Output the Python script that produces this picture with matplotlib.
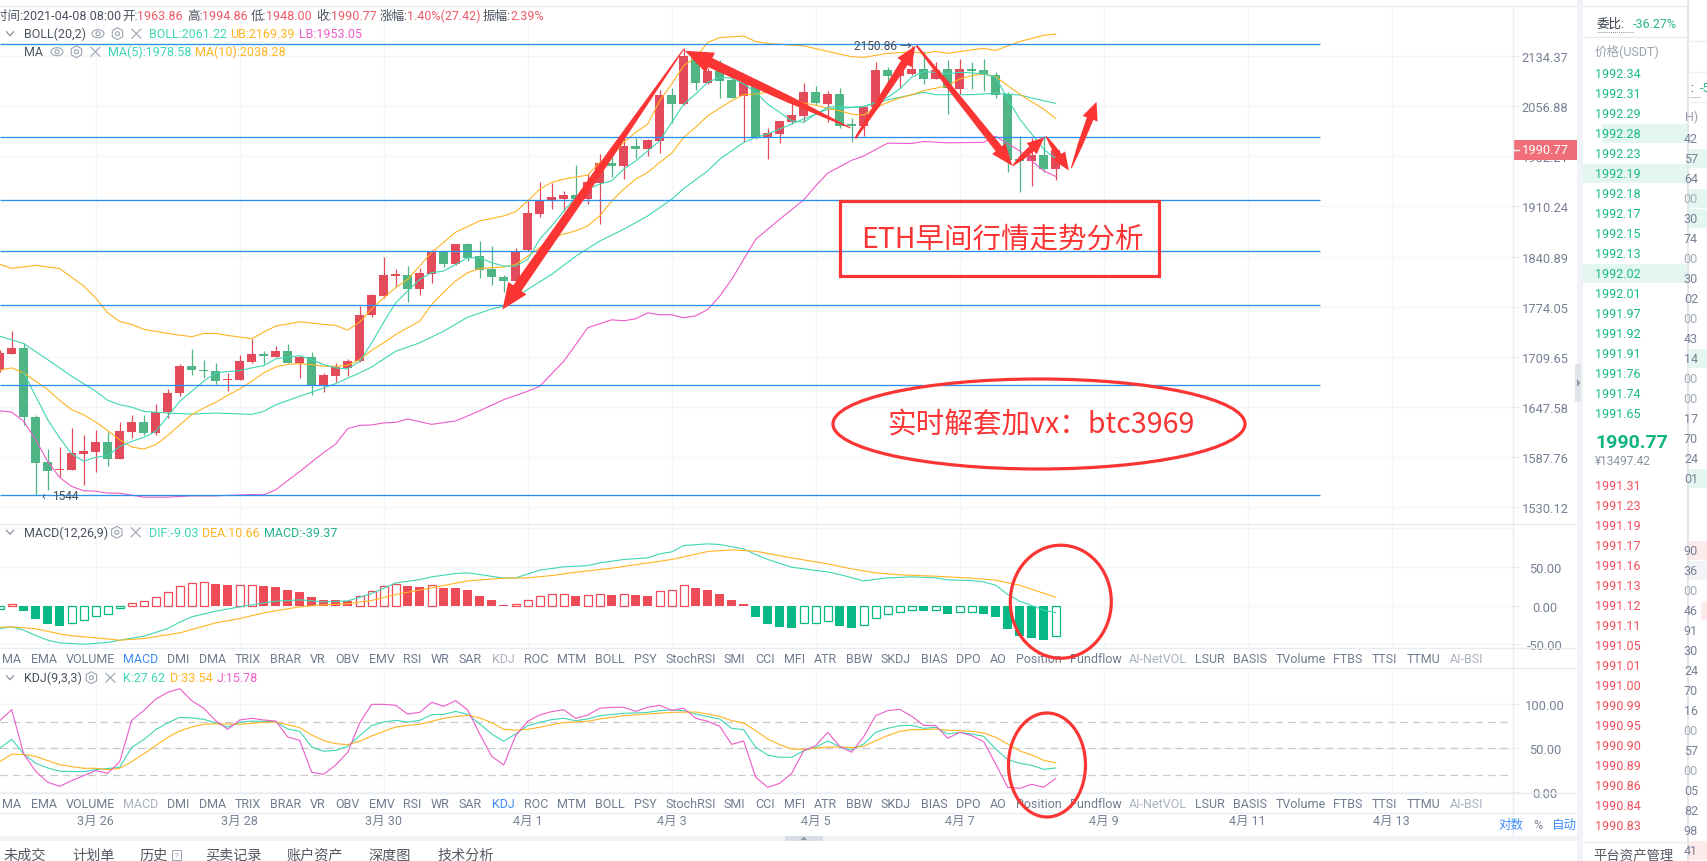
import matplotlib
matplotlib.use("Agg")
import matplotlib.pyplot as plt
import numpy as np
from matplotlib.patches import Ellipse, Polygon, Rectangle, RegularPolygon, Circle
from matplotlib.transforms import IdentityTransform

plt.rcParams['font.family'] = ['Roboto', 'Noto Sans CJK SC', 'DejaVu Sans']

W, H = 1708, 862

# candles, one every 4h
k_first = -8
candle_open = [1693.5, 1713.5, 1721.2, 1635.6, 1582, 1572, 1572.8, 1591.6, 1593.7, 1605.7, 1585.5, 1617.7, 1629.6, 1616.5, 1641, 1664, 1698.5, 1693.5, 1692.3, 1680.2, 1681, 1703, 1713.5, 1709.65, 1717.3, 1702.2, 1709.3, 1673.7, 1686, 1696, 1704, 1762.5, 1787.7, 1814.6, 1816.4, 1796.8, 1816.8, 1848.2, 1830.2, 1857.5, 1840.9, 1823.5, 1813.7, 1807.5, 1849.6, 1899.1, 1918, 1921.3, 1926, 1920.3, 1943.3, 1973.1, 1967.8, 1996.7, 1992.7, 2005, 2073.9, 2060, 2132, 2092.5, 2111.1, 2097.2, 2072.4, 2095.2, 2008.6, 2015.1, 2033.4, 2042.4, 2078.1, 2060, 2075.5, 2030, 2026.6, 2055, 2112.7, 2103.8, 2106.5, 2114.2, 2098.7, 2114.2, 2083.2, 2114.2, 2112.2, 2104.9, 2075.5, 1977.9, 1975.4, 1983.7, 1963.86]
candle_high = [1718.7, 1742.2, 1727.3, 1637.6, 1597.3, 1598.9, 1622.1, 1614, 1619.2, 1616.8, 1628.8, 1637.2, 1638, 1651.3, 1669.5, 1700.6, 1719.6, 1705, 1701.8, 1689.4, 1711.8, 1732.5, 1717.3, 1723.8, 1726.4, 1710.9, 1716, 1689.4, 1701.8, 1707.2, 1775.4, 1790.5, 1840.5, 1823.5, 1827.5, 1824.9, 1849.2, 1849.2, 1858, 1858.9, 1862, 1855.2, 1816.4, 1853, 1917.9, 1945.2, 1943.3, 1931.4, 1969.3, 1956.3, 1985.2, 1980.8, 2010.6, 2008.6, 2007.6, 2081.7, 2084.3, 2146.5, 2134, 2115.8, 2128.6, 2109.6, 2098.7, 2098.7, 2024, 2034.5, 2061.5, 2092.5, 2087.4, 2080.6, 2084.3, 2038.5, 2056.9, 2124.6, 2117.3, 2112, 2150.86, 2142.7, 2124.6, 2128.1, 2129.7, 2124.6, 2129.7, 2110, 2078.1, 2011.6, 2008.6, 2012.5, 1994.86]
candle_low = [1691, 1712.6, 1625.2, 1544, 1549.8, 1563.9, 1572, 1555.5, 1570.5, 1577.7, 1585, 1610.5, 1613.9, 1613.9, 1634.4, 1660.4, 1687.3, 1682.7, 1676.1, 1666.6, 1680.5, 1701.8, 1701, 1708.8, 1701.8, 1682.7, 1661.7, 1665.3, 1678.6, 1686, 1703.5, 1760.8, 1786, 1801.2, 1779.8, 1788.7, 1804.8, 1826.6, 1830, 1834.2, 1812.4, 1802.5, 1792.8, 1806, 1847.8, 1895.4, 1906.1, 1903.7, 1920, 1913.1, 1886.2, 1951.6, 1949.1, 1980.3, 1982.7, 1986.7, 2031.5, 2059, 2081.7, 2091, 2069.3, 2069, 2003.1, 2007.6, 1978.9, 2002, 2030, 2032.5, 2058.4, 2032.5, 2023.6, 2002.7, 2012.5, 2052.4, 2083.2, 2084.8, 2105, 2091, 2098, 2044.9, 2075.5, 2083.2, 2080.6, 2068.8, 1958.8, 1930.8, 1939.5, 1959.6, 1948]
candle_close = [1714.4, 1721.2, 1634.8, 1581.2, 1571.6, 1573.9, 1592.5, 1594.9, 1605.7, 1585.5, 1618.9, 1629.6, 1616.5, 1641.2, 1665, 1698.5, 1692.7, 1691.4, 1679.9, 1682.3, 1704.7, 1713.5, 1710, 1717.3, 1702.2, 1709.3, 1674.5, 1687.3, 1697.2, 1704.7, 1763.7, 1788.7, 1815.5, 1816.8, 1796.8, 1818.2, 1848.2, 1830.2, 1857.5, 1839.2, 1822.6, 1813.2, 1807.5, 1848.2, 1900.5, 1918.9, 1923.2, 1926, 1920.3, 1944.4, 1973.1, 1967.8, 1997.1, 1993.1, 2006.1, 2073.9, 2060, 2134.4, 2092.5, 2111.1, 2096.1, 2069.3, 2094, 2008.6, 2016.6, 2034.5, 2043.4, 2078.1, 2061.5, 2075.5, 2027.5, 2027.5, 2056.4, 2112.7, 2103.8, 2111, 2114.2, 2098.7, 2113.1, 2084.3, 2114.2, 2111.6, 2104.9, 2074.4, 1976.9, 1975.4, 1983.7, 1963.86, 1990.77]

# overlay lines on the price pane
ub_x = [-8, -7, -5, -3, -1, 0, 1, 2, 3, 4, 6, 8, 9, 10, 11, 13, 14, 15, 17, 19, 20, 21, 22, 23, 24, 25, 26, 28, 30, 32, 34, 35, 36, 37, 38, 39, 41, 42, 43, 44, 45, 46, 47, 48, 49, 50, 51, 52, 54, 55, 56, 59, 61, 63, 64, 66, 68, 69, 70, 71, 73, 74, 75, 77, 79, 80]
ub_y = [1830.2, 1824.9, 1828.9, 1824.5, 1801.2, 1785.4, 1766, 1754.7, 1750.9, 1744.5, 1739.3, 1735, 1739.3, 1739.3, 1736.7, 1732.5, 1741, 1748.7, 1754.3, 1750.9, 1749.6, 1743.6, 1753.8, 1771, 1785.7, 1799, 1810.1, 1846.5, 1874.2, 1889.9, 1896.8, 1902.9, 1917.9, 1934.7, 1944.4, 1949.1, 1954.9, 1973.1, 1982.7, 2002.7, 2017.6, 2030, 2065.1, 2091, 2119.3, 2132.4, 2155.9, 2163.7, 2166.2, 2157.4, 2154.3, 2150.5, 2141.7, 2133.3, 2132.4, 2138.6, 2141.1, 2138.6, 2141.7, 2138.6, 2144.3, 2146.5, 2143.3, 2157.4, 2167.3, 2169.39]
boll_x = [-8, -6, -4, -2, 0, 1, 2, 3, 4, 6, 8, 10, 13, 14, 15, 17, 19, 20, 22, 23, 25, 27, 29, 31, 33, 34, 36, 38, 40, 42, 44, 46, 48, 49, 51, 52, 54, 55, 56, 57, 58, 59, 60, 61, 62, 64, 65, 66, 67, 69, 70, 71, 73, 75, 77, 79, 80]
boll_y = [1735.8, 1726.4, 1705.9, 1685.2, 1666.6, 1655.5, 1650.1, 1647.2, 1642, 1640, 1638.8, 1640, 1638.4, 1642, 1650.1, 1660.4, 1670.8, 1676.1, 1689.4, 1696.8, 1716.5, 1727.3, 1742.2, 1760.3, 1771, 1774.4, 1796.8, 1816.8, 1841.3, 1862, 1878.3, 1896.8, 1920.3, 1935.6, 1961, 1977.9, 2002.7, 2010.1, 2015.1, 2022.5, 2030, 2037.5, 2044.9, 2052.4, 2053.4, 2056.4, 2061.5, 2066.6, 2070.3, 2078.1, 2074.4, 2074.4, 2074.4, 2076.6, 2073.9, 2065.1, 2061.22]
lb_x = [-8, -7, -6, -5, -4, -3, -2, -1, 0, 1, 2, 4, 6, 8, 10, 13, 14, 15, 17, 19, 20, 21, 22, 23, 24, 25, 26, 28, 30, 32, 34, 36, 37, 39, 41, 43, 44, 45, 46, 47, 48, 49, 50, 51, 52, 53, 55, 57, 59, 60, 61, 63, 64, 66, 68, 69, 71, 74, 75, 77, 79, 80]
lb_y = [1642.8, 1641.2, 1630, 1608.1, 1582.3, 1563.9, 1553.5, 1548.6, 1548.2, 1545.9, 1545.9, 1541.3, 1541.3, 1542.8, 1542.8, 1544.3, 1544, 1549.7, 1570.8, 1592.9, 1602.9, 1621.3, 1625.2, 1625.7, 1628.1, 1628.8, 1632.9, 1626.4, 1630.5, 1642.8, 1656.3, 1666.6, 1672.8, 1703.8, 1746.6, 1756.9, 1755.6, 1758.2, 1766, 1763.4, 1763.4, 1759.5, 1762.1, 1770.2, 1787.7, 1810.1, 1864.5, 1892.2, 1919.3, 1939.5, 1957.7, 1976.4, 1982.7, 2001.5, 2001, 2004, 2002, 2002.7, 2011.6, 1990.1, 1961, 1953.05]
ma10_y = [1692.7, 1695.6, 1689.4, 1679, 1668.7, 1655.5, 1644, 1638, 1629.3, 1618.9, 1608.1, 1599.4, 1597, 1602.1, 1613, 1625.7, 1638, 1646, 1653, 1661.7, 1669.5, 1679, 1689.4, 1696.8, 1700, 1701, 1699.7, 1697.6, 1697.6, 1698.9, 1705.9, 1717.8, 1727.3, 1738, 1746.6, 1755.1, 1776.7, 1793.2, 1807.9, 1819.1, 1824.5, 1825.8, 1826.6, 1830.2, 1841.3, 1853, 1866.9, 1871.5, 1876, 1883, 1896.8, 1917.9, 1934.7, 1949.1, 1958.8, 1973.1, 1986.7, 2010.1, 2025.1, 2042.4, 2053.9, 2065.1, 2074.4, 2075.5, 2078.1, 2073.9, 2067.7, 2061.5, 2058.4, 2053.4, 2049.9, 2044.9, 2043.4, 2055, 2062.6, 2069.3, 2074.4, 2080.6, 2084.3, 2088.4, 2098.7, 2103.8, 2106.5, 2102.2, 2088.4, 2075.5, 2063.5, 2052.4, 2038.28]
ma5_y = [1689.4, 1660.4, 1632, 1610.1, 1591.2, 1582.8, 1587.4, 1589.3, 1600, 1606, 1610.8, 1618, 1635.9, 1654.2, 1666.6, 1679, 1689.4, 1691, 1692.3, 1695.6, 1698.5, 1706.8, 1709.3, 1710.9, 1705.9, 1699.7, 1695.6, 1694.4, 1703.8, 1727.3, 1753.8, 1779, 1794.5, 1810.1, 1819.1, 1821.2, 1830.2, 1839.2, 1839.2, 1832.5, 1827.9, 1827.9, 1836.9, 1864.5, 1883, 1903.7, 1922.9, 1934.7, 1941.9, 1946.7, 1963.5, 1975.4, 1990.1, 2005, 2032.5, 2060, 2075.5, 2093.6, 2101.3, 2099.8, 2091, 2078.1, 2060, 2047.5, 2034.9, 2032.5, 2044.9, 2055, 2056.4, 2055, 2056.4, 2062.6, 2070.3, 2083.2, 2101.3, 2110, 2109, 2106.5, 2109, 2108, 2106.5, 2101.3, 2067.7, 2037.5, 2015.1, 1992.7, 1978.58]

drawn_levels = [2152.7, 2010.1, 1919.9, 1848.8, 1776.3, 1674.5, 1543.6]
price_ticks = [2134.37, 2056.88, 1982.21, 1910.24, 1840.89, 1774.05, 1709.65, 1647.58, 1587.76, 1530.12]

# hand drawn arrows, k and price of tail then tip
arrow_x0 = [49.0, 62.9, 63.3, 68.4, 76.4, 79.2, 81.3]
arrow_p0 = [2145.4, 2024, 2008.6, 2151, 1968.2, 2011.6, 1965]
arrow_x1 = [33.9, 49.1, 68.3, 76.4, 79.05, 81.1, 83.4]
arrow_p1 = [1770.2, 2142.7, 2150.5, 1968.2, 2010.1, 1961.5, 2063.5]

# MACD
macd_hist = [-4.3, 2.6, -7.3, -18, -23.2, -25.8, -22.4, -18.9, -13.8, -11.2, -3, 3.4, 6, 11.2, 18, 25.4, 29.2, 30.5, 28.4, 27.1, 27.1, 27.1, 25.8, 24.5, 20.6, 18, 11.6, 7.7, 6.5, 6.3, 12.5, 18.9, 25.4, 28, 25.8, 24.5, 27.1, 23.2, 23, 19.4, 12.9, 6.5, 1.3, 2, 7.3, 12.5, 15, 15, 12.9, 13, 15, 14.2, 15, 13.8, 12.9, 18.9, 19.4, 26.7, 23.2, 20.6, 15.5, 6.5, 2, -14.2, -23.2, -27.1, -28.4, -22.4, -22.4, -19.8, -25.8, -28.4, -24.9, -15.9, -10.8, -8.2, -5.6, -7.3, -5.6, -10.3, -8.2, -8.2, -10.3, -14.2, -29.7, -38.7, -41.3, -43.9, -39.37]
dea_x = [-8, -7, -5, -3, -2, 0, 2, 4, 7, 10, 12, 14, 17, 19, 21, 23, 25, 28, 31, 34, 36, 38, 40, 43, 46, 48, 51, 53, 55, 58, 61, 63, 65, 67, 70, 73, 75, 77, 80]
dea_y = [-28, -27.5, -30, -36.6, -39, -41.7, -44.7, -42.6, -35.3, -22.4, -16.8, -9.5, -1.7, 0.9, 2.2, 6.5, 14.2, 22.8, 31.8, 35.3, 35.7, 38.7, 43, 48.2, 55, 59.4, 69.7, 71.8, 70.1, 61.5, 53.8, 47.3, 42.2, 39.6, 37.8, 35.3, 32.7, 26.2, 10.66]
dif_x = [-8, -7, -6, -5, -4, -3, -1, 1, 2, 4, 6, 7, 8, 10, 12, 14, 15, 17, 19, 21, 23, 25, 27, 28, 30, 31, 32, 34, 35, 37, 39, 41, 42, 44, 46, 47, 48, 49, 51, 52, 54, 55, 56, 58, 60, 61, 62, 64, 66, 68, 70, 71, 73, 74, 75, 76, 77, 78, 79, 80]
dif_y = [-29.7, -27.5, -31.8, -38.7, -44.7, -48.2, -49.9, -47.7, -44.7, -39.6, -29.7, -21.5, -14.6, -7.3, -1.7, 3.4, 5.6, 7.3, 4.7, 6, 15.5, 29.2, 33.5, 37, 41.3, 42.2, 40, 35.3, 35.7, 45.6, 49.9, 51.6, 55, 59.4, 61.5, 66.7, 69.2, 77.4, 79.6, 78.7, 73.1, 65.8, 59.4, 49.5, 45.2, 43.4, 40, 31.8, 35.7, 37, 35.7, 33.1, 32.3, 30.5, 26.2, 14.2, 5.6, 0, -6, -9.03]

# KDJ
j_y = [81.4, 93.9, 43.6, 23.9, 11.4, 6.8, 13.3, 18.9, 24.6, 21.6, 34.8, 81.8, 92.8, 106, 113.6, 117.8, 104.2, 95.5, 81.4, 71.6, 82.2, 84.1, 82.2, 81, 62.9, 59, 22.7, 20.5, 31, 45.5, 78.8, 100, 100, 98.9, 89, 90.9, 102.3, 97.7, 104.2, 93.6, 66.3, 40.9, 31, 64.4, 80.7, 87.9, 91.7, 93.9, 84.1, 87.9, 95.5, 96.6, 96.6, 92, 96.6, 98.9, 93.2, 95.5, 84.1, 80.7, 75, 54.5, 58.3, 17, 5.7, 10.2, 21.6, 47.3, 53, 68.2, 52.3, 45.5, 63.3, 87.1, 92.8, 94.3, 86.4, 76.1, 75.8, 61.4, 68.2, 64.4, 57.6, 32.2, 5.7, 4.5, 9.1, 5.7, 15.78]
k_x = [-8, -7, -6, -5, -4, -3, -1, 0, 2, 3, 4, 5, 6, 7, 8, 9, 10, 11, 12, 13, 15, 16, 17, 18, 19, 20, 21, 22, 23, 24, 25, 26, 27, 28, 29, 30, 31, 32, 33, 34, 35, 36, 37, 38, 39, 40, 41, 42, 44, 45, 46, 47, 48, 49, 50, 51, 52, 53, 54, 55, 56, 57, 58, 59, 60, 61, 62, 63, 64, 65, 66, 67, 68, 69, 70, 71, 72, 73, 74, 75, 76, 77, 78, 79, 80]
k_y = [50, 60.2, 43.6, 33, 27.7, 23.9, 23.5, 25.8, 28.4, 51.1, 59.8, 71.2, 78.8, 85.2, 84.5, 83, 78.8, 74.2, 79.5, 81, 80.3, 72, 69.3, 51.5, 46.6, 47.7, 52.3, 64.4, 75.8, 79.9, 81.8, 79.9, 81.8, 88.3, 88.6, 92, 88.6, 77.7, 66.3, 58, 66.3, 75.8, 79.5, 82.6, 84.1, 81.4, 83.3, 87.1, 89.8, 90.2, 90.9, 92.8, 93.6, 92.8, 89, 86, 83.3, 72.7, 71.2, 51.1, 42.4, 39.8, 39.8, 47.3, 51.1, 58.3, 51.9, 48.1, 54.9, 68.2, 72.7, 75.8, 76.1, 72.7, 73.9, 66.3, 68.2, 66.3, 63.6, 49.2, 37.1, 33, 30.7, 26.1, 27.62]
d_x = [-8, -7, -6, -5, -4, -3, -2, -1, 0, 1, 2, 3, 4, 5, 6, 7, 8, 9, 10, 12, 14, 15, 16, 17, 18, 19, 20, 21, 22, 23, 24, 25, 26, 27, 28, 29, 30, 31, 32, 33, 34, 35, 36, 37, 38, 39, 41, 42, 44, 46, 48, 50, 51, 52, 53, 54, 55, 56, 57, 58, 59, 61, 62, 63, 64, 65, 66, 67, 68, 69, 70, 71, 72, 73, 74, 75, 76, 77, 78, 79, 80]
d_y = [34.8, 43.2, 43.2, 40.9, 36, 31.4, 29.2, 27.3, 27.3, 25.8, 27.3, 34.8, 43.6, 53, 62.5, 69.7, 74.2, 77.3, 78, 77.3, 79.5, 79.9, 76.9, 73.5, 65.2, 58.7, 55.3, 54.2, 58, 64, 69.3, 74.2, 76.1, 77.3, 80.7, 84.1, 86, 87.5, 84.5, 79.2, 71.6, 70.5, 71.6, 73.9, 76.9, 79.2, 80.7, 83.3, 87.1, 89, 90.9, 91.3, 89, 86.4, 81.4, 78.8, 70.1, 60.6, 54.2, 49.2, 48.9, 51.5, 51.5, 50.8, 52.3, 58.7, 64.4, 69.3, 71.2, 71.2, 72, 70.5, 70.1, 69.3, 67.4, 62.5, 54.9, 47, 42.4, 36.4, 33.54]

date_k = [0, 12, 24, 36, 48, 60, 72, 84, 96, 108]
date_labels = ['3月 26', '3月 28', '3月 30', '4月 1', '4月 3', '4月 5', '4月 7', '4月 9', '4月 11', '4月 13']

tab_names = ['MA', 'EMA', 'VOLUME', 'MACD', 'DMI', 'DMA', 'TRIX', 'BRAR', 'VR', 'OBV', 'EMV', 'RSI', 'WR', 'SAR', 'KDJ', 'ROC', 'MTM', 'BOLL', 'PSY', 'StochRSI', 'SMI', 'CCI', 'MFI', 'ATR', 'BBW', 'SKDJ', 'BIAS', 'DPO', 'AO', 'Position', 'Fundflow', 'AI-NetVOL', 'LSUR', 'BASIS', 'TVolume', 'FTBS', 'TTSI', 'TTMU', 'AI-BSI']
tab_left = [2.5, 30.7, 66, 123, 167, 198.6, 235, 270, 310, 335, 368.6, 403, 431, 459, 492, 523.6, 557, 594.8, 633.6, 665.4, 723.9, 755, 783.8, 814, 845.6, 881, 920.7, 956, 990, 1016, 1069.8, 1129, 1194.6, 1233.4, 1276, 1333.4, 1372, 1407, 1449.7]

ask_prices = ['1992.34', '1992.31', '1992.29', '1992.28', '1992.23', '1992.19', '1992.18', '1992.17', '1992.15', '1992.13', '1992.02', '1992.01', '1991.97', '1991.92', '1991.91', '1991.76', '1991.74', '1991.65']
bid_prices = ['1991.31', '1991.23', '1991.19', '1991.17', '1991.16', '1991.13', '1991.12', '1991.11', '1991.05', '1991.01', '1991.00', '1990.99', '1990.95', '1990.90', '1990.89', '1990.86', '1990.84', '1990.83']
next_panel_tail = ['42', '57', '64', '00', '30', '74', '00', '30', '02', '00', '43', '14', '00', '00', '17', '70', '24', '01']
next_panel_tail2 = ['90', '36', '00', '46', '91', '30', '24', '70', '16', '00', '57', '00', '05', '82', '98', '41']
bottom_tabs = ['未成交', '计划单', '历史', '买卖记录', '账户资产', '深度图', '技术分析']
bottom_left = [3.6, 72.5, 140, 205, 287, 369, 437]

RED = '#e44b5a'
GREEN = '#4fb585'
TEAL = '#3fd6b4'
ORANGE = '#ffb422'
PINK = '#ec5cc8'
BLUE = '#2a90f0'
MARK = '#fb3434'
GRID = '#f3f5f8'
EDGE = '#e8ebf0'
LABEL = '#768094'

px_to_k = lambda px: (px - 95.7) / 12
LW = 0.8


def pane(top, bottom):
    ax = fig.add_axes([0, 1 - bottom / H, 1513 / W, (bottom - top) / H])
    ax.set_xlim(px_to_k(0), px_to_k(1513))
    ax.patch.set_alpha(0)
    for s in ax.spines.values():
        s.set_visible(False)
    ax.set_xticks(date_k)
    ax.tick_params(axis='x', length=0, labelbottom=False)
    ax.yaxis.tick_right()
    ax.tick_params(axis='y', length=4.3, width=1, color=EDGE, pad=18.7, labelsize=9.3, labelcolor=LABEL, which='major')
    ax.tick_params(axis='y', which='minor', length=0, labelright=False)
    ax.grid(True, color=GRID, lw=1)
    ax.set_axisbelow(True)
    return ax


def center_labels(ax):
    for t in ax.get_yticklabels():
        t.set_ha('center')


def tapered_arrow(ax, x0, p0, x1, p1, tail, body, head, head_len):
    a, b = ax.transData.transform([(x0, p0), (x1, p1)])
    d = b - a
    L = np.hypot(*d)
    u = d / L
    n = np.array([-u[1], u[0]])
    neck = b - u * head_len
    mid = a + (neck - a) * 0.45
    pts = [a + n * tail / 2, mid + n * body * 0.36, neck + n * body / 2, neck + n * head / 2, b,
           neck - n * head / 2, neck - n * body / 2, mid - n * body * 0.36, a - n * tail / 2]
    ax.add_patch(Polygon(pts, closed=True, fc=MARK, ec='none', zorder=8, transform=IdentityTransform()))


fig = plt.figure(figsize=(W / 100, H / 100), dpi=100, facecolor='white')

# ---- price pane
ax = pane(8, 524)
ax.set_yscale('log')
ax.set_ylim(1512.2, 2213.1)
ax.set_yticks(price_ticks)
ax.set_yticklabels([f'{v:.2f}' for v in price_ticks])
ax.minorticks_off()
center_labels(ax)

kk = np.arange(k_first, k_first + len(candle_open))
o, h, l, c = map(np.array, (candle_open, candle_high, candle_low, candle_close))
cols = [RED if cc >= oo else GREEN for oo, cc in zip(o, c)]
ax.vlines(kk, l, h, colors=cols, lw=0.9, zorder=3)
ax.bar(kk, np.maximum(np.abs(c - o), 1.5), bottom=np.minimum(o, c), width=0.72, color=cols, zorder=3)

ax.plot(ub_x, ub_y, color=ORANGE, lw=LW, zorder=4)
ax.plot(boll_x, boll_y, color=TEAL, lw=LW, zorder=4)
ax.plot(lb_x, lb_y, color=PINK, lw=LW, zorder=4)
ax.plot(kk, ma10_y, color=ORANGE, lw=LW, zorder=4)
ax.plot(kk[2:], ma5_y, color=TEAL, lw=LW, zorder=4)
ax.hlines(drawn_levels, px_to_k(0), px_to_k(1320), color=BLUE, lw=0.95, zorder=5)

ax.text(px_to_k(853.8), 2150.86, '2150.86 →', fontsize=8.6, color='#444c58', va='center', zorder=7)
ax.text(px_to_k(41), 1543.6, '‹', fontsize=9, color='#444c58', va='center', zorder=7)
ax.text(px_to_k(51.8), 1543.6, '1544', fontsize=8.6, color='#444c58', va='center', zorder=7)

fig.canvas.draw()
shapes = [(1, 10, 22, 26), (1, 10, 22, 28), (2, 8, 17, 20), (2, 8, 17, 22), (1, 7, 15, 17), (1, 6, 15, 18), (1, 7, 16, 18)]
for i, (t, b, hd, hl) in enumerate(shapes):
    tapered_arrow(ax, arrow_x0[i], arrow_p0[i], arrow_x1[i], arrow_p1[i], t, b, hd, hl)

# ---- MACD pane
ax2 = pane(525, 649)
ax2.set_ylim(-54.8, 105.2)
ax2.set_yticks([50, 0, -50])
ax2.set_yticklabels(['50.00', '0.00', '-50.00'])
center_labels(ax2)
ax2.axhline(100, color=GRID, lw=1, zorder=0)
prev = None
for x, v in zip(kk, macd_hist):
    hollow = prev is None or v >= prev
    edge = '#ee4b58' if v >= 0 else '#05b886'
    ax2.bar(x, v, width=0.68 if hollow else 0.74, facecolor='white' if hollow else edge, edgecolor=edge, lw=0.9 if hollow else 0, zorder=3)
    prev = v
ax2.plot(dif_x, dif_y, color=TEAL, lw=LW, zorder=4)
ax2.plot(dea_x, dea_y, color=ORANGE, lw=LW, zorder=4)

# ---- KDJ pane
ax3 = pane(669, 794)
ax3.set_ylim(-0.8, 141.3)
ax3.set_yticks([100, 50, 0])
ax3.set_yticklabels(['100.00', '50.00', '0.00'])
center_labels(ax3)
ax3.hlines([80, 50, 20], px_to_k(0), px_to_k(1510), color='#c9c9c9', lw=0.9, linestyles=(0, (6, 4)), zorder=2)
ax3.plot(k_x, k_y, color=TEAL, lw=LW, zorder=4)
ax3.plot(d_x, d_y, color=ORANGE, lw=LW, zorder=4)
ax3.plot(kk, j_y, color=PINK, lw=LW, zorder=4)

# ---- date axis
ax4 = fig.add_axes([0, 1 - 836 / H, 1513 / W, 22 / H])
ax4.set_xlim(px_to_k(0), px_to_k(1513))
ax4.set_ylim(0, 1)
ax4.patch.set_alpha(0)
for s in ax4.spines.values():
    s.set_visible(False)
ax4.set_yticks([])
ax4.set_xticks(date_k)
ax4.set_xticklabels(date_labels, fontsize=9, color=LABEL)
ax4.tick_params(axis='x', length=0, pad=-15)

# ---- everything around the panes, in screen pixels
ui = fig.add_axes([0, 0, 1, 1], facecolor='none')
ui.set_xlim(0, W)
ui.set_ylim(H, 0)
ui.axis('off')


def txt(x, y, s, color='#4a5260', size=9, **kw):
    kw.setdefault('va', 'center')
    return ui.text(x, y, s, color=color, fontsize=size, **kw)


def hline(y, x0=0, x1=1577, color=EDGE, lw=1):
    ui.plot([x0, x1], [y, y], color=color, lw=lw, solid_capstyle='butt')


for y in [7, 524.7, 649.3, 669, 794, 814.3]:
    hline(y)
ui.plot([1513, 1513], [7, 836], color=EDGE, lw=1)

# header
RVAL = '#ee5a66'
head = [(-5, '时间:2021-04-08 08:00', '#4a5260'), (122.5, '开:', '#4a5260'), (137.5, '1963.86', RVAL), (187.5, '高:', '#4a5260'),
        (202, '1994.86', RVAL), (251, '低:', '#4a5260'), (266.4, '1948.00', RVAL), (316, '收:', '#4a5260'), (331, '1990.77', RVAL),
        (380, '涨幅:', '#4a5260'), (407, '1.40%(27.42)', RVAL), (483, '振幅:', '#4a5260'), (510.7, '2.39%', RVAL)]
for x, s, col in head:
    txt(x, 16.7, s, col)


def chevron(y):
    ui.plot([6.5, 10, 13.5], [y - 2, y + 2, y - 2], color='#7c8694', lw=0.8)


def eye(x, y):
    ui.add_patch(Ellipse((x, y), 12, 8, fc='none', ec='#9aa3b0', lw=0.8))
    ui.add_patch(Circle((x, y), 2, fc='none', ec='#9aa3b0', lw=0.8))


def hexa(x, y):
    ui.add_patch(RegularPolygon((x, y), 6, radius=6, fc='none', ec='#9aa3b0', lw=0.8))
    ui.add_patch(Circle((x, y), 2, fc='none', ec='#9aa3b0', lw=0.8))


def cross(x, y):
    ui.plot([x - 4.5, x + 4.5], [y - 4.5, y + 4.5], color='#9aa3b0', lw=0.8)
    ui.plot([x - 4.5, x + 4.5], [y + 4.5, y - 4.5], color='#9aa3b0', lw=0.8)


chevron(34.7)
txt(24.3, 34.7, 'BOLL(20,2)')
eye(98, 34.7)
hexa(117.5, 34.7)
cross(136.4, 34.7)
txt(149, 34.7, 'BOLL:2061.22', TEAL)
txt(230, 34.7, 'UB:2169.39', ORANGE)
txt(298.6, 34.7, 'LB:1953.05', PINK)
txt(24.3, 52.7, 'MA')
eye(57, 52.7)
hexa(76.4, 52.7)
cross(95.4, 52.7)
txt(108, 52.7, 'MA(5):1978.58', TEAL)
txt(194.6, 52.7, 'MA(10):2038.28', ORANGE)
chevron(533.3)
txt(24.3, 533.3, 'MACD(12,26,9)')
hexa(116.8, 533.3)
cross(135.7, 533.3)
txt(148.6, 533.3, 'DIF:-9.03', TEAL)
txt(202, 533.3, 'DEA:10.66', ORANGE)
txt(263.6, 533.3, 'MACD:-39.37', '#22b38a')
chevron(678.7)
txt(24.3, 678.7, 'KDJ(9,3,3)')
hexa(91.4, 678.7)
cross(110.4, 678.7)
txt(123, 678.7, 'K:27.62', TEAL)
txt(170, 678.7, 'D:33.54', ORANGE)
txt(216.8, 678.7, 'J:15.78', PINK)

# indicator tabs
faded = {'AI-NetVOL', 'AI-BSI'}
for row_y, active, off in [(659.5, 'MACD', 'KDJ'), (804.5, 'KDJ', 'MACD')]:
    for name, x in zip(tab_names, tab_left):
        col = '#6f7c8f'
        if name == active:
            col = '#3f8ef5'
        elif name == off or name in faded:
            col = '#a9b1bd'
        txt(x, row_y, name, col)

txt(1498, 825.7, '对数', '#3f8ef5')
txt(1533, 825.7, '%', LABEL)
txt(1551.7, 825.7, '自动', '#3f8ef5')

# band under the chart
ui.add_patch(Rectangle((0, 836.7), 1577, 5, fc='#f2f3f7', ec='none'))
ui.add_patch(Rectangle((785, 836.7), 38, 5, fc='#d8dce3', ec='none'))
ui.add_patch(Polygon([(800.5, 841), (807, 841), (803.8, 837.5)], fc='#8f98a6', ec='none'))
for name, x in zip(bottom_tabs, bottom_left):
    txt(x, 856, name, '#55585f', 10.2)
ui.add_patch(Rectangle((172.5, 851), 9, 10, fc='none', ec='#9aa3b0', lw=0.7))
txt(177, 856, '?', '#9aa3b0', 6, ha='center')

# last price tag
ui.add_patch(Rectangle((1513, 141), 64, 20, fc='#f06e78', ec='none'))
ui.plot([1513, 1519], [151, 151], color='white', lw=1)
txt(1545, 151, '1990.77', 'white', 9.3, ha='center')

# next panel peeking out on the right, its text is cut by the order book
for y, fc, x0 in [(150, '#e4f6f0', 1688), (190, '#e4f6f0', 1688), (210, '#e4f6f0', 1688), (350, '#e4f6f0', 1688),
                  (470, '#e4f6f0', 1688), (542, '#fdeaea', 1688), (562, '#f2f3f7', 1688), (602, '#fdeaea', 1701),
                  (842, '#fdeaea', 1688)]:
    ui.add_patch(Rectangle((x0, y), 1708 - x0, 19, fc=fc, ec='none'))
hline(41.5, 1689, 1708, '#eef0f3')
hline(72.5, 1689, 1708, '#eef0f3')
hline(103, 1689, 1708, '#eef0f3')
txt(1690, 88.7, ':', '#333a45', 9)
txt(1700, 88.7, '-5', '#26b58f', 9)
ui.plot([1689, 1700], [98, 98], color='#8a93a0', lw=0.7, ls=(0, (1, 1)))
clip_rect = Rectangle((1688, 0), 20, H, transform=ui.transData)
cut = [txt(1698, 117, 'H)', '#9aa3ae', 9, ha='right')]
for i, s in enumerate(next_panel_tail):
    cut.append(txt(1698, 139.3 + 20 * i, s, '#a3abb7' if s == '00' else '#768094', 9, ha='right'))
for i, s in enumerate(next_panel_tail2):
    cut.append(txt(1698, 551.7 + 20 * i, s, '#a3abb7' if s == '00' else '#768094', 9, ha='right'))
for t in cut:
    t.set_clip_path(clip_rect)

# separator and order book
ui.add_patch(Rectangle((1577, 0), 6, H, fc='#f2f3f7', ec='none'))
ui.add_patch(Rectangle((1575, 365), 6, 38, fc='#e1e4ea', ec='none'))
ui.add_patch(Polygon([(1577, 380), (1577, 388), (1580.5, 384)], fc='#8f98a6', ec='none'))
hline(7, 1583, 1687)
hline(38.3, 1583, 1687)
hline(842.7, 1583, 1687)
txt(1596.7, 24, '委比:', '#333a45', 9)
ui.plot([1597, 1633], [33, 33], color='#8a93a0', lw=0.7, ls=(0, (1, 1)))
txt(1632.7, 24, '-36.27%', '#26b58f', 9)
txt(1595, 51.7, '价格(USDT)', '#9aa3ae', 9)
ui.add_patch(Rectangle((1602, 125), 85, 19, fc='#e4f6f0', ec='none'))
ui.add_patch(Rectangle((1583, 165), 104, 19, fc='#e4f6f0', ec='none'))
ui.add_patch(Rectangle((1583, 265), 104, 19, fc='#e4f6f0', ec='none'))
for i, s in enumerate(ask_prices):
    txt(1595, 74.7 + 20 * i, s, '#18b98a', 9)
txt(1595, 443, '1990.77', '#10b482', 14, fontweight='bold')
txt(1595, 462, '¥13497.42', '#8a93a0', 8.6)
for i, s in enumerate(bid_prices):
    txt(1595, 486.7 + 20 * i, s, '#f0505c', 9)
txt(1593, 856, '平台资产管理', '#55585f', 9.6)
ui.plot([1688, 1688], [0, H], color='#dfe2e7', lw=1.2)

# red notes over the chart
ui.add_patch(Rectangle((840, 201.7), 319, 75.6, fc='none', ec=MARK, lw=2.3, zorder=9))
ui.text(1002, 240, 'ETH早间行情走势分析', color=MARK, fontsize=20.5, ha='center', va='center', family=['Noto Sans CJK SC'], zorder=9)
ui.add_patch(Ellipse((1039, 425), 412, 90, fc='none', ec=MARK, lw=2.3, zorder=9))
ui.text(1041.5, 425, '实时解套加vx\uff1abtc3969', color=MARK, fontsize=20.6, ha='center', va='center', family=['Noto Sans CJK SC'], zorder=9)
ui.add_patch(Ellipse((1060.8, 602.7), 101, 113, fc='none', ec=MARK, lw=2.3, zorder=9))
ui.add_patch(Ellipse((1047, 766), 77, 104, fc='none', ec=MARK, lw=2.3, zorder=9))

fig.savefig('out.png', dpi=100)
